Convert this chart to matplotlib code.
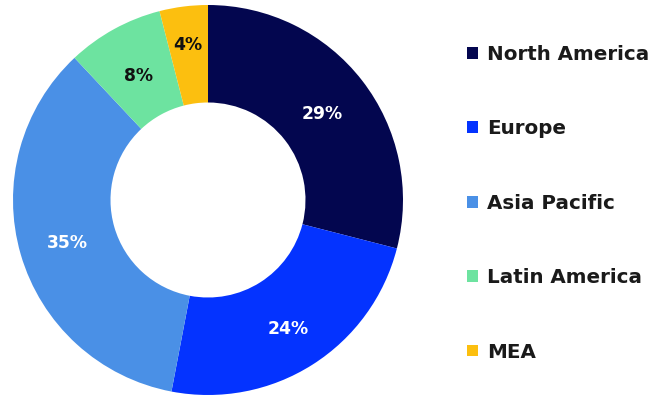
import numpy as np
import matplotlib.pyplot as plt
from matplotlib.patches import Patch

plt.rcParams['font.family'] = ['DejaVu Sans']

regions = ['North America', 'Europe', 'Asia Pacific', 'Latin America', 'MEA']
shares = [29, 24, 35, 8, 4]
colors = ['#03064f', '#0433ff', '#4a90e6', '#6de3a0', '#fcbf0f']
label_colors = ['white', 'white', 'white', '#111111', '#111111']
# radial position of each percentage label (fraction of outer radius)
label_dist = [0.74, 0.77, 0.75, 0.74, 0.81]

fig = plt.figure(figsize=(6.55, 3.99), dpi=100)
ax = fig.add_axes([13 / 655, 4 / 399, 390 / 655, 390 / 399])

wedges, texts = ax.pie(
    shares, colors=colors, startangle=90, counterclock=False,
    radius=1.0, wedgeprops=dict(width=0.5, linewidth=0))

for w, share, c, d in zip(wedges, shares, label_colors, label_dist):
    mid = np.deg2rad((w.theta1 + w.theta2) / 2)
    ax.text(d * np.cos(mid), d * np.sin(mid), f'{share}%',
            ha='center', va='center_baseline', color=c,
            fontsize=12.3, fontweight='bold')
ax.set_xlim(-1, 1)
ax.set_ylim(-1, 1)

handles = [Patch(facecolor=c, edgecolor='none') for c in colors]
leg = fig.legend(handles, regions, loc='upper left',
                 bbox_to_anchor=(449 / 655, 1 - 27 / 399),
                 frameon=False, prop=dict(size=14.3, weight='bold'),
                 handlelength=0.55, handleheight=0.55, handletextpad=0.45,
                 labelspacing=2.79)
for t in leg.get_texts():
    t.set_color('#1a1a1a')

fig.savefig('out.png', dpi=100)
